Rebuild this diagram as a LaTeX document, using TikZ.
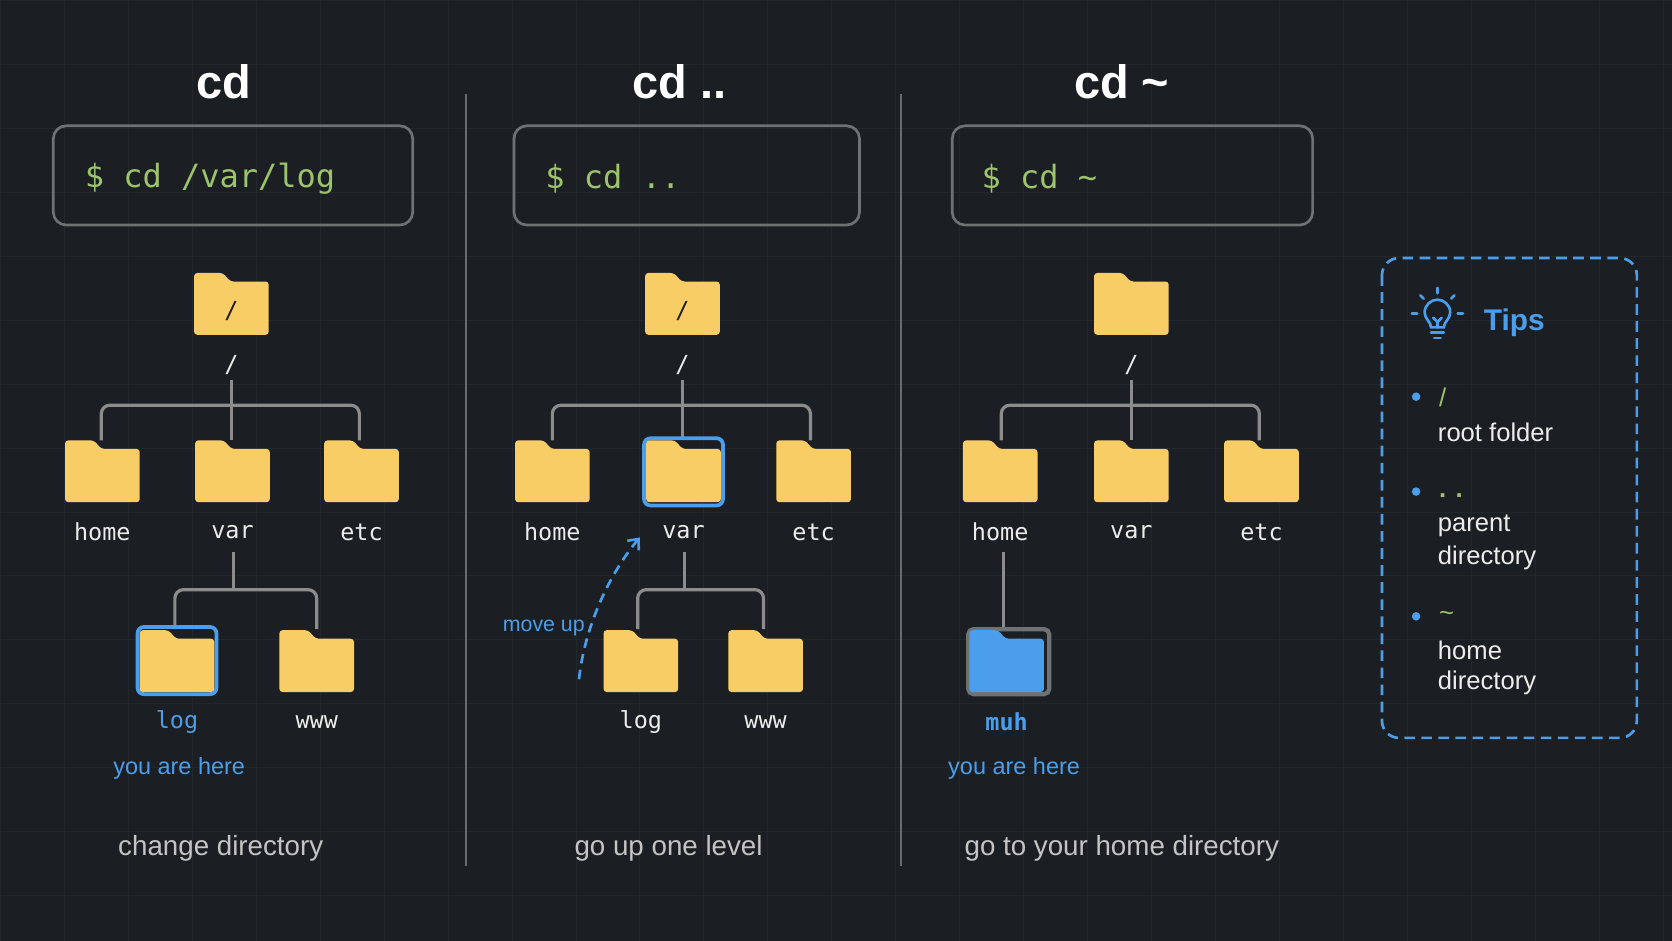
\documentclass[tikz,border=0pt]{standalone}
\usepackage{fontspec}
\setmainfont{Liberation Sans}
\setsansfont{Liberation Sans}
\setmonofont{DejaVu Sans Mono}
\usetikzlibrary{arrows.meta}
\definecolor{bg}{HTML}{1B1F23}
\definecolor{gridc}{HTML}{22272C}
\definecolor{fold}{HTML}{F9CD66}
\definecolor{blu}{HTML}{4A9EEB}
\definecolor{grn}{HTML}{9CC46A}
\definecolor{lin}{HTML}{8C8C8C}
\definecolor{txt}{HTML}{ECECEC}
\definecolor{cap}{HTML}{C4C4C4}
\definecolor{boxc}{HTML}{6E7275}
\tikzset{
 folder/.pic={\path[fill=fold,rounded corners=3pt] (-35,-29) -- (-8,-29) -- (-1,-21) -- (35,-21) -- (35,29) -- (-35,29) -- cycle;},
 bfolder/.pic={\path[fill=blu,rounded corners=3pt] (-35,-29) -- (-8,-29) -- (-1,-21) -- (35,-21) -- (35,29) -- (-35,29) -- cycle;},
 title/.style={font=\fontsize{44}{50}\selectfont\bfseries, text=white},
 cmdbox/.style={draw=boxc, line width=2.5pt, rounded corners=12pt},
 cmd/.style={font=\ttfamily\fontsize{30}{34}\selectfont, text=grn, anchor=west},
 lab/.style={font=\ttfamily\fontsize{22}{26}\selectfont, text=txt},
 slash/.style={font=\ttfamily\fontsize{22}{26}\selectfont, text=txt},
 tree/.style={draw=lin, line width=3pt, rounded corners=8pt},
 capt/.style={font=\fontsize{26}{30}\selectfont, text=cap},
 here/.style={font=\fontsize{22}{26}\selectfont, text=blu},
 tip/.style={font=\fontsize{24}{28}\selectfont, text=txt, anchor=west},
 dot/.style={circle, fill=blu, inner sep=0pt, minimum size=8pt},
 divider/.style={draw=lin!70!bg, line width=2pt},
}
\begin{document}
\begin{tikzpicture}[x=1pt,y=-1pt]
\fill[bg] (0,0) rectangle (1568,882);
\useasboundingbox (0,0) rectangle (1568,882);
\foreach \i in {0,60,...,1560} \draw[gridc, line width=0.6pt] (\i,0) -- (\i,882);
\foreach \j in {0,60,...,880} \draw[gridc, line width=0.6pt] (0,\j) -- (1568,\j);
% dividers
\coordinate (d1a) at (437,88); \coordinate (d1b) at (437,812);
\coordinate (d2a) at (845,88); \coordinate (d2b) at (845,812);
\draw[divider] (d1a) -- (d1b); \draw[divider] (d2a) -- (d2b);
% titles
\node[title] (t1) at (210,77) {cd};
\node[title] (t2) at (637,77) {cd ..};
\node[title] (t3) at (1052,77) {cd \textasciitilde};
% command boxes
\draw[cmdbox] (50,118) rectangle (387,211);
\draw[cmdbox] (482,118) rectangle (806,211);
\draw[cmdbox] (893,118) rectangle (1231,211);
\node[cmd] (c1) at (76,168) {\$ cd /var/log};
\node[cmd] (c2) at (508,168) {\$ cd ..};
\node[cmd] (c3) at (917,168) {\$ cd \textasciitilde};

% ===== panel 1
\pic at (217,285) {folder}; \node[slash, text=bg] at (217,292) {/};
\node[slash] (r1) at (217,342) {/};
\draw[tree] (217,356) -- (217,413);
\draw[tree] (95,413) |- (337,380) -- (337,413);
\foreach \x/\n in {96/home,218/var,339/etc}{\pic at (\x,442) {folder}; \node[lab] at (\x,499) {\n};}
\draw[tree] (219,518) -- (219,553);
\draw[tree] (164,590) |- (297,553) -- (297,590);
\draw[blu, line width=3.5pt, rounded corners=6pt] (129,588) rectangle (203,651);
\pic at (166,620) {folder}; \pic at (297,620) {folder};
\node[lab, text=blu] at (166,677) {log};
\node[lab] at (297,677) {www};
\node[here] at (168,721) {you are here};
\node[capt] at (207,796) {change directory};

% ===== panel 2
\pic at (640,285) {folder}; \node[slash, text=bg] at (640,292) {/};
\node[slash] at (640,342) {/};
\draw[tree] (640,356) -- (640,413);
\draw[tree] (518,413) |- (760,380) -- (760,413);
\draw[blu, line width=3.5pt, rounded corners=6pt] (604,411) rectangle (678,474);
\foreach \x/\n in {518/home,641/var,763/etc}{\pic at (\x,442) {folder}; \node[lab] at (\x,499) {\n};}
\draw[tree] (642,518) -- (642,553);
\draw[tree] (598,590) |- (716,553) -- (716,590);
\pic at (601,620) {folder}; \pic at (718,620) {folder};
\node[lab] at (601,677) {log};
\node[lab] at (718,677) {www};
\coordinate (m0) at (543,637); \coordinate (m1) at (600,504);
\draw[blu, line width=2.5pt, dash pattern=on 9pt off 6pt, -{Straight Barb[length=8pt,width=14pt]}]
  (m0) .. controls (548,590) and (570,540) .. (m1);
\node[font=\fontsize{20}{22}\selectfont, text=blu] at (510,589) {move up};
\node[capt] at (627,796) {go up one level};

% ===== panel 3
\pic at (1061,285) {folder};
\node[slash] at (1061,342) {/};
\draw[tree] (1061,356) -- (1061,413);
\draw[tree] (939,413) |- (1181,380) -- (1181,413);
\foreach \x/\n in {938/home,1061/var,1183/etc}{\pic at (\x,442) {folder}; \node[lab] at (\x,499) {\n};}
\draw[draw=lin, line width=3pt] (941,518) -- (941,588);
\draw[boxc, line width=4pt, rounded corners=5pt] (908,590) rectangle (984,651);
\pic at (944,620) {bfolder};
\node[lab, text=blu, font=\ttfamily\bfseries\fontsize{22}{26}\selectfont] at (944,677) {muh};
\node[here] at (951,721) {you are here};
\node[capt] at (1052,796) {go to your home directory};

% ===== tips
\draw[blu, line width=2.5pt, dash pattern=on 10pt off 6pt, rounded corners=16pt] (1296,242) rectangle (1535,692);
\begin{scope}[shift={(1348,298)}, blu, line width=2.5pt, line cap=round]
 \draw (-6,9) .. controls (-6,4) and (-12,1) .. (-12,-5) .. controls (-12,-12) and (-6,-17) .. (0,-17)
   .. controls (6,-17) and (12,-12) .. (12,-5) .. controls (12,1) and (6,4) .. (6,9) -- cycle;
 \draw (-6,14) -- (6,14); \draw (-3,19) -- (3,19);
 \draw (-4,0) -- (0,4) -- (4,0); \draw (0,4) -- (0,9);
 \draw (0,-23) -- (0,-28); \draw (-13,-18) -- (-16,-21); \draw (13,-18) -- (16,-21);
 \draw (-19,-4) -- (-24,-4); \draw (19,-4) -- (24,-4);
\end{scope}
\node[font=\fontsize{28}{32}\selectfont\bfseries, text=blu, anchor=west] (tips) at (1388,303) {Tips};
\node[dot] at (1328,372) {}; \node[dot] at (1328,461) {}; \node[dot] at (1328,578) {};
\node[font=\fontsize{24}{28}\selectfont, text=grn, anchor=west] at (1346,373) {/};
\node[font=\fontsize{24}{28}\selectfont\bfseries, text=grn, anchor=west] at (1346,465) {. .};
\node[font=\fontsize{24}{28}\selectfont, text=grn, anchor=west] at (1346,578) {\textasciitilde};
\node[tip] at (1345,405) {root folder};
\node[tip] at (1345,493) {parent};
\node[tip] at (1345,523) {directory};
\node[tip] at (1345,610) {home};
\node[tip] at (1345,640) {directory};
\end{tikzpicture}
\end{document}
